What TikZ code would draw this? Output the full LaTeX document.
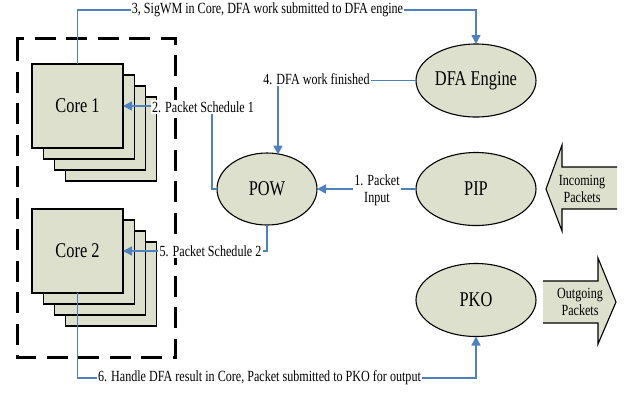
\documentclass[tikz,border=0pt]{standalone}
\usepackage{fontspec}
\setmainfont[FakeStretch=0.78]{Liberation Serif}
\usetikzlibrary{shapes.geometric,arrows.meta,calc}
\definecolor{sage}{RGB}{221,224,204}
\definecolor{flow}{RGB}{79,129,189}

\begin{document}
\begin{tikzpicture}[x=1pt,y=-1pt,
  corebox/.style={draw=black,line width=1.1pt,fill=sage,minimum width=91pt,
    minimum height=84pt,inner sep=0pt,outer sep=0pt,font=\fontsize{21}{24}\selectfont},
  backbox/.style={draw=black,line width=1.1pt,fill=sage},
  unit/.style={ellipse,draw=black,line width=1.1pt,fill=sage,inner sep=0pt,
    outer sep=0pt,minimum width=120pt,minimum height=73pt,font=\fontsize{21}{24}\selectfont},
  flowline/.style={draw=flow,line width=1.5pt},
  flowarrow/.style={flowline,-{Triangle[length=9pt,width=9pt]}},
  lbl/.style={fill=white,inner sep=1.2pt,font=\fontsize{15.5}{17}\selectfont},
  blocktext/.style={align=center,inner sep=0pt,font=\fontsize{15.5}{17.5}\selectfont}
]
\useasboundingbox (0,0) rectangle (631,392);

% dashed frame around the cores
\draw[line width=3pt,dash pattern=on 21pt off 10.5pt,line join=miter]
  (17,52) -- (17,38) -- (175,38) -- (175,357) -- (17,357) -- cycle;

% stacked cores
\foreach \k in {3,2,1}
  \draw[backbox] (32+11.3*\k,64+11*\k) rectangle ++(91,84);
\node[corebox] (core1) at (77.5,106) {Core 1};
\foreach \k in {3,2,1}
  \draw[backbox] (32+11.3*\k,209+11*\k) rectangle ++(91,84);
\node[corebox] (core2) at (77.5,251) {Core 2};

% processing units
\node[unit] (dfa) at (476,80.5) {DFA Engine};
\node[unit,minimum width=100pt,minimum height=72pt] (pow) at (267,189) {POW};
\node[unit] (pip) at (476,189) {PIP};
\node[unit] (pko) at (476,300) {PKO};

% packet block arrows
\fill[sage] (617,167) -- (562,167) -- (562,145) -- (546,189) -- (562,231)
  -- (562,209) -- (617,209) -- cycle;
\draw[line width=1.1pt,line join=miter] (617,167) -- (562,167) -- (562,145)
  -- (546,189) -- (562,231) -- (562,209) -- (617,209);
\node[blocktext] (incoming) at (582,189) {Incoming\\Packets};

\fill[sage] (543,281) -- (598,281) -- (598,258) -- (616,302) -- (598,344)
  -- (598,323) -- (543,323) -- cycle;
\draw[line width=1.1pt,line join=miter] (543,281) -- (598,281) -- (598,258)
  -- (616,302) -- (598,344) -- (598,323) -- (543,323);
\node[blocktext] (outgoing) at (580,302) {Outgoing\\Packets};

% flow connectors
\coordinate (top3) at (0,10);
\coordinate (bot6) at (0,378);
\draw[flowarrow] (core1.north) -- (core1.north |- top3) -| (dfa.north);
\draw[flowarrow] (dfa.west) -| ([xshift=11pt,yshift=-1.5pt]pow.north);
\draw[flowarrow] (pow.west) -- ++(-5,0) |- (core1.east);
\draw[flowarrow] (pow.south) |- (core2.east);
\draw[flowarrow] (pip.west) -- (pow.east);
\draw[flowarrow] (core2.south) -- (core2.south |- bot6) -| (pko.south);

% step labels
\node[lbl] (l3) at (267.5,10) {3, SigWM in Core, DFA work submitted to DFA engine};
\node[lbl] (l4) at (316.5,79.5) {4. DFA work finished};
\node[lbl] (l2) at (203,107) {2. Packet Schedule 1};
\node[lbl] (l5) at (210.5,251) {5. Packet Schedule 2};
\node[lbl,align=center] (l1) at (377,190) {1. Packet\\Input};
\node[lbl] (l6) at (259.5,378) {6. Handle DFA result in Core, Packet submitted to PKO for output};
\end{tikzpicture}
\end{document}
